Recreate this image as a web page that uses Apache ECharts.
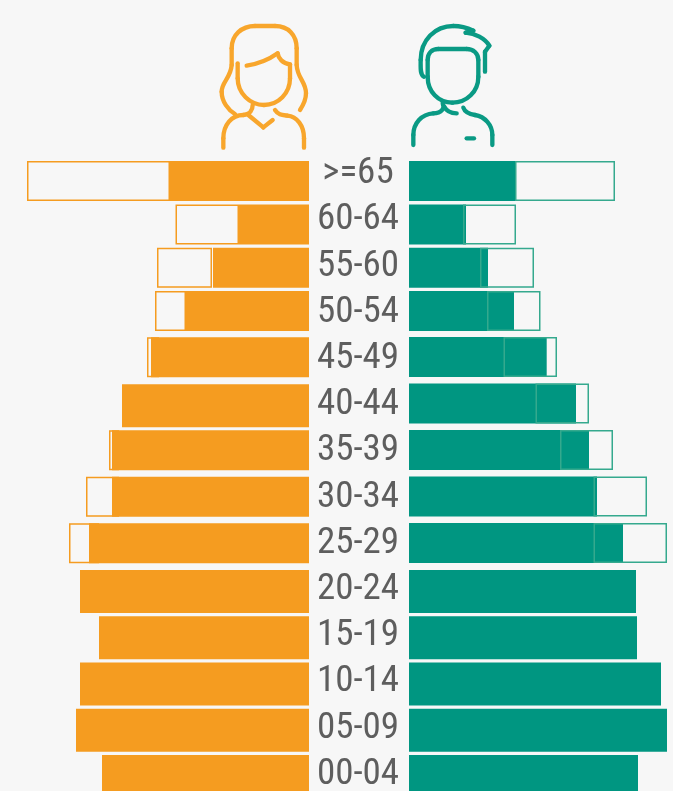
<!DOCTYPE html>
<html>
<head>
<meta charset="utf-8">
<style>
  html, body { margin: 0; padding: 0; background: #f7f7f7; overflow: hidden; }
  /* taller than the window: the last row runs off the bottom edge */
  #chart { width: 673px; height: 830px; }
</style>
<script src="https://cdn.jsdelivr.net/npm/echarts@6/dist/echarts.min.js"></script>
</head>
<body>
<div id="chart"></div>
<script>
const ageGroups = [">=65", "60-64", "55-60", "50-54", "45-49", "40-44", "35-39", "30-34", "25-29", "20-24", "15-19", "10-14", "05-09", "00-04"];

// axis units
const womenSolid = [139.5, 70, 96, 124.5, 158, 187, 197, 197, 220, 229, 210, 229, 233, 207];
const womenBoxStart = [139, 70, 97, 115, 150, null, 190, 190, 210, null, null, null, null, null];
const womenBoxLength = [143, 63.5, 55, 39, 12, null, 10, 33, 30, null, null, null, null, null];

const menSolid = [106, 57, 79, 105, 137.7, 167, 180, 188, 214, 227, 228, 252, 258, 229];
const menBoxStart = [106, 54, 71, 78, 94.5, 126.5, 151, 184.5, 184.5, null, null, null, null, null];
const menBoxLength = [100, 53, 54, 53.5, 53.5, 53.5, 53, 53.5, 73.5, null, null, null, null, null];

const ORANGE = "#f59c20";
const TEAL = "#009681";

const grid = [];
const xAxis = [];
const yAxis = [];
const series = [];

// rows are not evenly spaced in the original, so each run of rows gets its own grid
function addBand(side, from, to, top, pitch, barH) {
  const idx = grid.length;
  const isLeft = side === "women";
  const solid = isLeft ? womenSolid : menSolid;
  const boxStart = isLeft ? womenBoxStart : menBoxStart;
  const boxLength = isLeft ? womenBoxLength : menBoxLength;
  const color = isLeft ? ORANGE : TEAL;

  grid.push({
    left: isLeft ? 0 : 409,
    width: isLeft ? 309 : 264,
    top: top,
    height: pitch * (to - from)
  });
  xAxis.push({
    gridIndex: idx,
    type: "value",
    min: 0,
    max: isLeft ? 309 : 264,
    inverse: isLeft,
    show: false
  });
  yAxis.push({
    gridIndex: idx,
    type: "category",
    inverse: true,
    show: false,
    data: ageGroups.slice(from, to)
  });

  const base = { type: "bar", xAxisIndex: idx, yAxisIndex: idx, barWidth: barH, barGap: "-100%", silent: true };
  series.push(Object.assign({}, base, {
    name: side,
    data: solid.slice(from, to),
    itemStyle: { color: color }
  }));
  series.push(Object.assign({}, base, {
    stack: side + "box" + idx,
    data: boxStart.slice(from, to),
    itemStyle: { color: "transparent" }
  }));
  series.push(Object.assign({}, base, {
    stack: side + "box" + idx,
    data: boxLength.slice(from, to),
    itemStyle: {
      color: "transparent",
      borderWidth: 1.5,
      borderColor: isLeft ? ORANGE : "#35a98e"
    }
  }));
}

addBand("women", 0, 4, 159.4, 43.33, 40);
addBand("women", 4, 5, 334, 46.5, 40);
addBand("women", 5, 6, 382.5, 46.5, 43);
addBand("women", 6, 9, 427, 46.5, 40);
addBand("women", 9, 14, 568.4, 46.25, 43);
addBand("men", 0, 4, 159.4, 43.33, 40);
addBand("men", 4, 9, 333.8, 46.5, 40);
addBand("men", 9, 14, 568.4, 46.25, 43);

// age labels sit on their own even spacing, a bit above the bars
const labelGrid = grid.length;
grid.push({ left: 358, width: 1, top: 150.9, height: 646.8 });
xAxis.push({ gridIndex: labelGrid, type: "value", show: false });
yAxis.push({
  gridIndex: labelGrid,
  type: "category",
  inverse: true,
  data: ageGroups,
  axisLine: { show: false },
  axisTick: { show: false },
  axisLabel: {
    interval: 0,
    margin: 0,
    align: "center",
    verticalAlign: "middle",
    color: "#5e5e5e",
    fontFamily: "'Roboto Condensed','Noto Sans Condensed','Open Sans Condensed','DejaVu Sans Condensed',Roboto",
    fontSize: 37
  }
});

const womanIcon = [
  "M105,312 C85,300 65,275 65,245 C65,215 92,205 95,165 L95,115 C95,75 125,48 165,48 L225,48 C265,48 290,75 290,115 L290,165 C292,205 318,215 318,250 C318,270 310,285 300,300",
  "M140,167 C175,162 205,150 233,130 C235,145 248,160 270,163",
  "M113,160 L113,205 C113,250 150,285 192,285 C235,285 270,250 270,205 L270,163",
  "M158,285 C158,300 150,313 130,315 C95,315 70,345 70,385 L70,413",
  "M145,315 L190,352 L218,330",
  "M225,300 C235,315 245,315 262,317 C290,320 312,345 312,385 L312,413"
];
const manIcon = [
  "M672,200 C660,195 662,175 662,150 C662,90 705,48 760,48 C785,48 805,55 820,62 L797,68 C825,70 855,85 868,107 L855,125 L855,185",
  "M683,150 C683,130 695,117 715,117 L800,117 C820,117 835,130 835,150 L835,200 C835,245 800,278 757,278 C715,278 683,245 683,200 L683,150",
  "M728,280 C735,295 725,310 700,310 C665,312 640,340 640,375 L640,405",
  "M733,290 C740,305 755,310 770,310",
  "M790,293 C795,308 810,313 825,315 C855,320 877,345 877,375 L877,405",
  "M800,385 L822,385"
];

// graphic has no path element, so split each outline into lines and bezier curves
function iconElements(paths, color) {
  const els = [];
  paths.forEach(d => {
    let px = 0, py = 0;
    d.match(/[MLC][^MLC]*/g).forEach(cmd => {
      const n = cmd.slice(1).trim().split(/[\s,]+/).map(Number);
      const el = {
        silent: true,
        x: 200,
        y: 10,
        scaleX: 1 / 3,
        scaleY: 1 / 3,
        style: { fill: null, stroke: color, lineWidth: 13, lineCap: "round" }
      };
      if (cmd[0] === "L") {
        els.push(Object.assign(el, { type: "line", shape: { x1: px, y1: py, x2: n[0], y2: n[1] } }));
      } else if (cmd[0] === "C") {
        els.push(Object.assign(el, {
          type: "bezierCurve",
          shape: { x1: px, y1: py, cpx1: n[0], cpy1: n[1], cpx2: n[2], cpy2: n[3], x2: n[4], y2: n[5] }
        }));
      }
      px = n[n.length - 2];
      py = n[n.length - 1];
    });
  });
  return els;
}

const chart = echarts.init(document.getElementById("chart"));
chart.setOption({
  backgroundColor: "#f7f7f7",
  animation: false,
  grid: grid,
  xAxis: xAxis,
  yAxis: yAxis,
  series: series,
  graphic: iconElements(womanIcon, "#f8a62c").concat(iconElements(manIcon, "#0a9a84"))
});
</script>
</body>
</html>
